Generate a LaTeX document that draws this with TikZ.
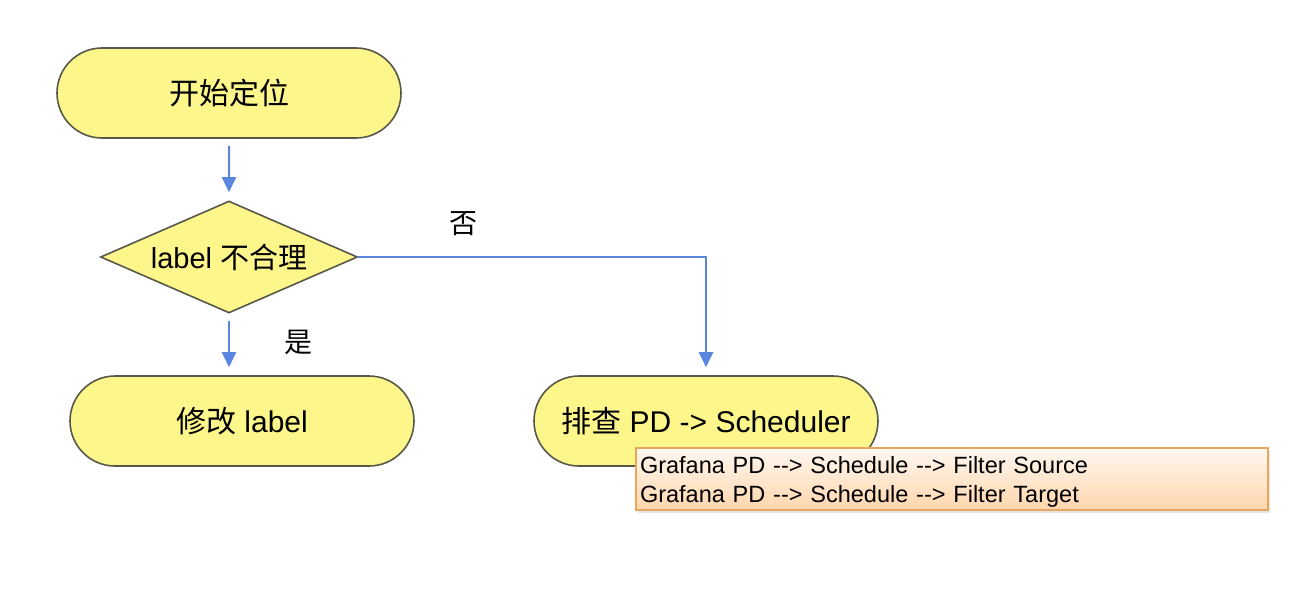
\documentclass[tikz,border=0pt]{standalone}
\usepackage{fontspec}
\setmainfont{Liberation Sans}
\newfontfamily\cjk{Noto Sans CJK SC}
\usetikzlibrary{shapes.misc,shapes.geometric,arrows.meta,shadows}
\definecolor{flowyellow}{HTML}{FDF68A}
\definecolor{flowedge}{HTML}{58584A}
\definecolor{flowblue}{HTML}{5A86E0}
\definecolor{noteedge}{HTML}{E9A65E}

\tikzset{
  pill/.style={rounded rectangle, draw=flowedge, line width=1.6pt, fill=flowyellow,
    minimum width=344pt, minimum height=90pt, inner sep=0pt,
    font=\fontsize{30}{34}\selectfont},
  choice/.style={diamond, draw=flowedge, line width=1.6pt, fill=flowyellow,
    aspect=2.3, minimum width=257pt, minimum height=112pt, inner sep=0pt,
    font=\fontsize{29}{32}\selectfont},
  flowarrow/.style={draw=flowblue, line width=2pt,
    -{Triangle[width=14pt,length=15pt]}, shorten >=8pt},
  notebox/.style={rectangle, draw=noteedge, line width=1.2pt,
    top color=orange!6, bottom color=orange!32,
    minimum width=632pt, minimum height=62pt,
    drop shadow={opacity=0.2, shadow xshift=2pt, shadow yshift=-3pt}},
  notetext/.style={text width=624pt, inner xsep=4pt, inner ysep=0pt, align=left,
    font=\fontsize{23.5}{29}\selectfont},
  branch/.style={font=\fontsize{28}{32}\selectfont}
}

\begin{document}
\begin{tikzpicture}[x=1pt,y=-1pt]
\useasboundingbox [fill=white] (0,0) rectangle (1314,590);
% flow
\node [pill] (start) at (229,93) {{\cjk 开始定位}};
\node [choice] (check) at (229,257) {label {\cjk 不合理}};
\node [pill] (fix) at (242,421) {{\cjk 修改} label};
\node [pill] (sched) at (706,421) {{\cjk 排查} PD -> Scheduler};
\node [branch] (yes) at (298,342) {\cjk 是};
\node [branch] (no) at (463,224) {\cjk 否};
% connectors
\draw [flowarrow, shorten <=7pt] (start) -- (check);
\draw [flowarrow, shorten <=7pt] (check.south) -- (check.south |- fix.north);
\draw [flowarrow] (check.east) -| (sched.north);
% note
\node [notebox] (hint) at (952,479) {};
\node [notetext] (hinttext) at ([yshift=-3pt]hint.center) {Grafana PD -{}-> Schedule -{}-> Filter Source\\Grafana PD -{}-> Schedule -{}-> Filter Target};
\end{tikzpicture}
\end{document}
